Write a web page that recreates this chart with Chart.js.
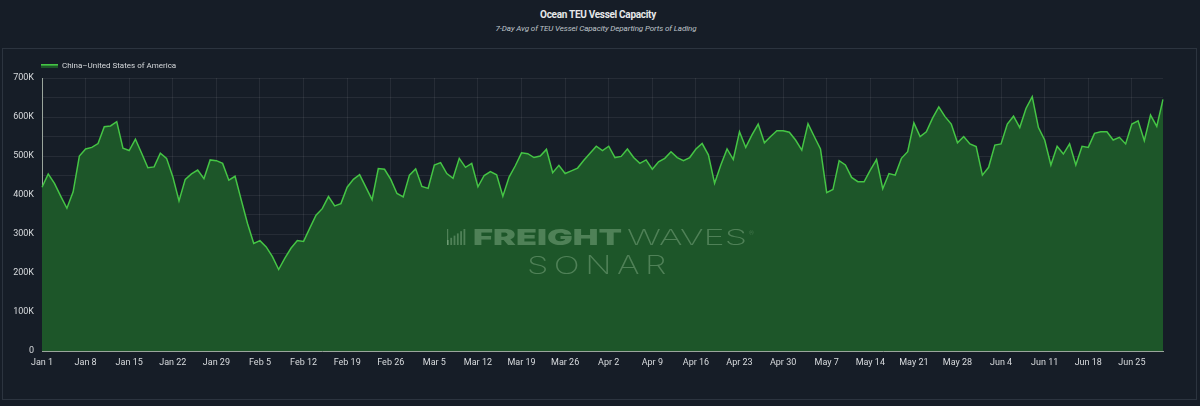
<!DOCTYPE html>
<html>
<head>
<meta charset="utf-8">
<script src="https://cdn.jsdelivr.net/npm/chart.js@4.4.0/dist/chart.umd.min.js"></script>
<style>
  html, body { margin:0; padding:0; background:#161d27; }
  #wrap { position:relative; width:1200px; height:406px; overflow:hidden; }
  #title { position:absolute; top:9px; left:0; width:1196px; text-align:center;
    font:bold 10px Roboto, sans-serif; color:#e6e8ea; letter-spacing:-0.3px; }
  #subtitle { position:absolute; top:24px; left:0; width:1192px; text-align:center;
    font:italic 8px Roboto, sans-serif; color:#bfc4ca; letter-spacing:-0.1px; }
  canvas { position:absolute; top:0; left:0; }
</style>
</head>
<body>
<div id="wrap">
  <div id="title">Ocean TEU Vessel Capacity</div>
  <div id="subtitle">7-Day Avg of TEU Vessel Capacity Departing Ports of Lading</div>
  <canvas id="chart" width="1200" height="406"></canvas>
</div>
<script>
// ---------- DADOS ----------
const seriesName = 'China–United States of America';
const monthAbbr = ['Jan','Feb','Mar','Apr','May','Jun','Jul','Aug','Sep','Oct','Nov','Dec'];
const startDay = new Date(2023, 0, 1);
const dayCount = 181; // Jan 1 -> Jun 30

const dates = [];
for (let i = 0; i < dayCount; i++) {
  const d = new Date(startDay.getFullYear(), startDay.getMonth(), startDay.getDate() + i);
  dates.push(monthAbbr[d.getMonth()] + ' ' + d.getDate());
}

// capacity in thousand TEU
const capacityK = [
  420, 454, 430, 397, 366, 408, 500, 518, 522, 532,
  575, 577, 588, 520, 514, 543, 507, 470, 472, 507,
  494, 447, 385, 440, 454, 464, 442, 490, 488, 481,
  438, 448, 387, 327, 276, 283, 267, 242, 209, 238,
  264, 283, 281, 315, 348, 365, 396, 372, 378, 420,
  440, 452, 420, 388, 468, 466, 440, 404, 395, 451,
  467, 422, 417, 477, 483, 455, 443, 494, 471, 481,
  421, 450, 460, 452, 397, 446, 475, 508, 506, 496,
  500, 517, 457, 476, 455, 462, 469, 489, 507, 525,
  514, 525, 496, 499, 518, 496, 481, 490, 466, 485,
  494, 511, 496, 488, 496, 518, 532, 503, 430, 477,
  518, 491, 562, 522, 554, 582, 534, 550, 565, 565,
  561, 541, 515, 583, 550, 518, 406, 414, 488, 477,
  445, 434, 434, 464, 491, 416, 455, 451, 494, 511,
  585, 550, 562, 597, 626, 601, 582, 534, 550, 531,
  524, 451, 471, 528, 531, 582, 602, 573, 622, 652,
  573, 541, 477, 525, 505, 531, 477, 525, 522, 558,
  562, 562, 541, 548, 531, 582, 590, 539, 605, 576,
  645
];
const capacity = capacityK.map(v => v * 1000);

const yTickLabels = ['0','100K','200K','300K','400K','500K','600K','700K'];

// ---------- Helpers ----------
// write a word squeezed/stretched to a given width
function fitText(c, txt, x, y, width){
  const w = c.measureText(txt).width;
  c.save();
  c.translate(x, y);
  c.scale(width / w, 1);
  c.fillText(txt, 0, 0);
  c.restore();
}

// ---------- Plugins ----------
const panelPlugin = {
  id: 'panel',
  beforeDraw(chart){
    const c = chart.ctx;
    c.save();
    c.strokeStyle = '#2c343f';
    c.lineWidth = 1;
    c.strokeRect(2.5, 48.5, 1194, 351);
    c.restore();
  },
  afterDatasetsDraw(chart){
    const c = chart.ctx;
    c.save();
    c.fillStyle = 'rgba(170,205,170,0.36)';
    // bars icon
    for (let i = 0; i < 6; i++) {
      const h = 5 + i * 2.2;
      c.fillRect(447 + i * 3.3, 245 - h, 1.8, h);
    }
    c.fillRect(447, 229, 1.2, 16);
    c.textBaseline = 'alphabetic';
    c.textAlign = 'left';
    c.font = '900 22px Inter, Roboto, sans-serif';
    fitText(c, 'FREIGHT', 473, 245, 149);
    c.font = '200 22px Inter, Roboto, sans-serif';
    fitText(c, 'WAVES', 627, 245, 120);
    c.font = '300 6px Roboto, sans-serif';
    c.fillText('®', 749, 235);
    c.font = '200 25px Inter, Roboto, sans-serif';
    c.letterSpacing = '4px';
    fitText(c, 'SONAR', 527, 274, 145);
    c.restore();
  },
  afterDraw(chart){
    // legend
    const c = chart.ctx;
    c.save();
    c.fillStyle = '#1d5629';
    c.fillRect(41, 64, 17, 4);
    c.fillStyle = '#45c545';
    c.fillRect(41, 64, 17, 1.6);
    c.fillStyle = '#d6d9dc';
    c.font = '8px Roboto, sans-serif';
    c.textBaseline = 'middle';
    c.fillText(seriesName, 62, 66);
    c.restore();
  }
};

// ---------- Chart ----------
new Chart(document.getElementById('chart'), {
  type: 'line',
  data: {
    labels: dates,
    datasets: [{
      label: seriesName,
      data: capacity,
      borderColor: '#45c545',
      backgroundColor: '#1d5629',
      borderWidth: 1.5,
      pointRadius: 0,
      tension: 0,
      fill: 'origin'
    }]
  },
  options: {
    responsive: false,
    animation: false,
    events: [],
    layout: { padding: { top: 78, left: 4, right: 37, bottom: 0 } },
    plugins: { legend: { display: false }, tooltip: { enabled: false } },
    scales: {
      x: {
        offset: false,
        afterFit: s => { s.height = 55; },
        grid: { color: 'rgba(255,255,255,0.07)', drawTicks: false },
        border: { color: '#9aa59c', width: 1 },
        ticks: {
          autoSkip: false, maxRotation: 0, padding: 6,
          color: '#d8dbde', font: { family: 'Roboto', size: 9 },
          callback: (v, i) => i % 7 === 0 ? dates[i] : null
        }
      },
      y: {
        min: 0, max: 700000,
        afterFit: s => { s.width = 38; },
        grid: { color: 'rgba(255,255,255,0.07)', drawTicks: false },
        border: { color: '#9aa59c', width: 1 },
        ticks: {
          stepSize: 50000, padding: 8,
          color: '#d8dbde', font: { family: 'Roboto', size: 9 },
          callback: v => v % 100000 === 0 ? yTickLabels[v / 100000] : ''
        }
      }
    }
  },
  plugins: [panelPlugin]
});
</script>
</body>
</html>
